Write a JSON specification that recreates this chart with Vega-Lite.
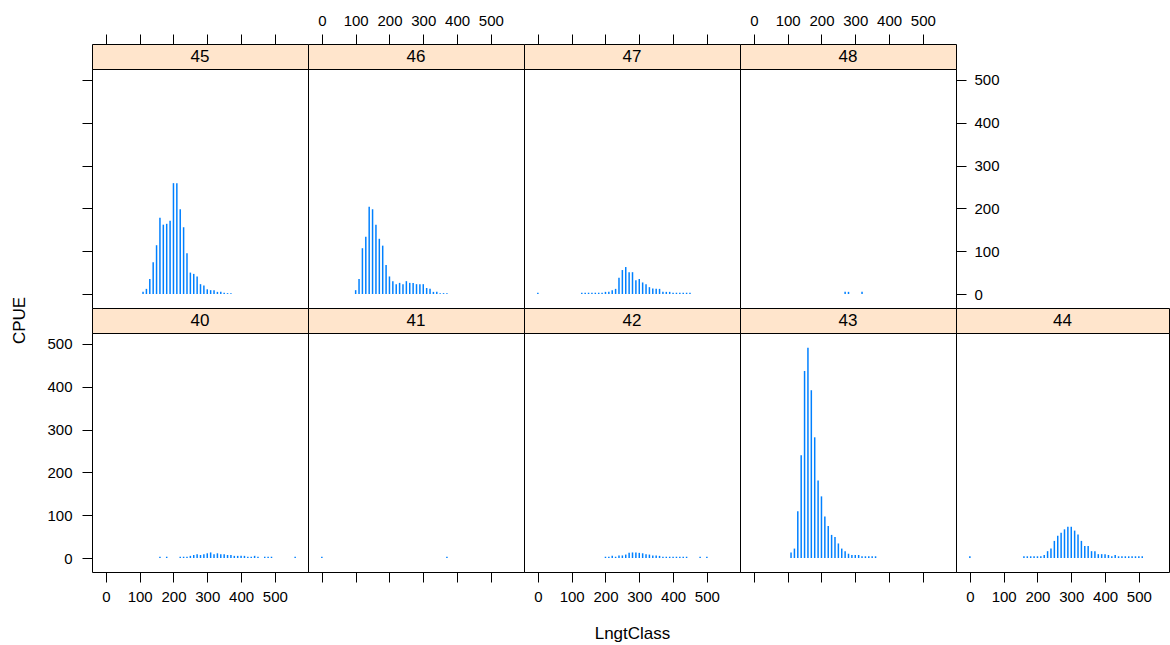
{
  "$schema": "https://vega.github.io/schema/vega-lite/v6.json",
  "background": "white",
  "padding": {"left": 9, "top": 12, "right": 0, "bottom": 0},
  "datasets": {
    "cpue": [
      {"panel":45,"LngtClass":110,"CPUE":5},{"panel":45,"LngtClass":120,"CPUE":12},{"panel":45,"LngtClass":130,"CPUE":35},{"panel":45,"LngtClass":140,"CPUE":74},{"panel":45,"LngtClass":150,"CPUE":114},{"panel":45,"LngtClass":160,"CPUE":178},{"panel":45,"LngtClass":170,"CPUE":162},{"panel":45,"LngtClass":180,"CPUE":164},{"panel":45,"LngtClass":190,"CPUE":171},{"panel":45,"LngtClass":200,"CPUE":259},{"panel":45,"LngtClass":210,"CPUE":259},{"panel":45,"LngtClass":220,"CPUE":198},{"panel":45,"LngtClass":230,"CPUE":156},{"panel":45,"LngtClass":240,"CPUE":95},{"panel":45,"LngtClass":250,"CPUE":50},{"panel":45,"LngtClass":260,"CPUE":47},{"panel":45,"LngtClass":270,"CPUE":41},{"panel":45,"LngtClass":280,"CPUE":23},{"panel":45,"LngtClass":290,"CPUE":20},{"panel":45,"LngtClass":300,"CPUE":11},{"panel":45,"LngtClass":310,"CPUE":9},{"panel":45,"LngtClass":320,"CPUE":9},{"panel":45,"LngtClass":330,"CPUE":5},{"panel":45,"LngtClass":340,"CPUE":5},{"panel":45,"LngtClass":350,"CPUE":3},{"panel":45,"LngtClass":360,"CPUE":2},{"panel":45,"LngtClass":370,"CPUE":2},
      {"panel":46,"LngtClass":100,"CPUE":9},{"panel":46,"LngtClass":110,"CPUE":35},{"panel":46,"LngtClass":120,"CPUE":107},{"panel":46,"LngtClass":130,"CPUE":134},{"panel":46,"LngtClass":140,"CPUE":204},{"panel":46,"LngtClass":150,"CPUE":198},{"panel":46,"LngtClass":160,"CPUE":162},{"panel":46,"LngtClass":170,"CPUE":129},{"panel":46,"LngtClass":180,"CPUE":113},{"panel":46,"LngtClass":190,"CPUE":68},{"panel":46,"LngtClass":200,"CPUE":41},{"panel":46,"LngtClass":210,"CPUE":30},{"panel":46,"LngtClass":220,"CPUE":23},{"panel":46,"LngtClass":230,"CPUE":26},{"panel":46,"LngtClass":240,"CPUE":23},{"panel":46,"LngtClass":250,"CPUE":30},{"panel":46,"LngtClass":260,"CPUE":26},{"panel":46,"LngtClass":270,"CPUE":26},{"panel":46,"LngtClass":280,"CPUE":23},{"panel":46,"LngtClass":290,"CPUE":23},{"panel":46,"LngtClass":300,"CPUE":23},{"panel":46,"LngtClass":310,"CPUE":14},{"panel":46,"LngtClass":320,"CPUE":12},{"panel":46,"LngtClass":330,"CPUE":5},{"panel":46,"LngtClass":340,"CPUE":5},{"panel":46,"LngtClass":350,"CPUE":2},{"panel":46,"LngtClass":360,"CPUE":2},{"panel":46,"LngtClass":370,"CPUE":2},
      {"panel":47,"LngtClass":0,"CPUE":3},{"panel":47,"LngtClass":130,"CPUE":3},{"panel":47,"LngtClass":140,"CPUE":3},{"panel":47,"LngtClass":150,"CPUE":3},{"panel":47,"LngtClass":160,"CPUE":3},{"panel":47,"LngtClass":170,"CPUE":3},{"panel":47,"LngtClass":180,"CPUE":3},{"panel":47,"LngtClass":190,"CPUE":3},{"panel":47,"LngtClass":200,"CPUE":5},{"panel":47,"LngtClass":210,"CPUE":5},{"panel":47,"LngtClass":220,"CPUE":9},{"panel":47,"LngtClass":230,"CPUE":12},{"panel":47,"LngtClass":240,"CPUE":38},{"panel":47,"LngtClass":250,"CPUE":56},{"panel":47,"LngtClass":260,"CPUE":63},{"panel":47,"LngtClass":270,"CPUE":51},{"panel":47,"LngtClass":280,"CPUE":51},{"panel":47,"LngtClass":290,"CPUE":32},{"panel":47,"LngtClass":300,"CPUE":35},{"panel":47,"LngtClass":310,"CPUE":27},{"panel":47,"LngtClass":320,"CPUE":23},{"panel":47,"LngtClass":330,"CPUE":16},{"panel":47,"LngtClass":340,"CPUE":13},{"panel":47,"LngtClass":350,"CPUE":12},{"panel":47,"LngtClass":360,"CPUE":12},{"panel":47,"LngtClass":370,"CPUE":5},{"panel":47,"LngtClass":380,"CPUE":5},{"panel":47,"LngtClass":390,"CPUE":5},{"panel":47,"LngtClass":400,"CPUE":3},{"panel":47,"LngtClass":410,"CPUE":3},{"panel":47,"LngtClass":420,"CPUE":3},{"panel":47,"LngtClass":430,"CPUE":3},{"panel":47,"LngtClass":440,"CPUE":3},{"panel":47,"LngtClass":450,"CPUE":3},
      {"panel":48,"LngtClass":270,"CPUE":5},{"panel":48,"LngtClass":280,"CPUE":5},{"panel":48,"LngtClass":320,"CPUE":5},
      {"panel":40,"LngtClass":160,"CPUE":3},{"panel":40,"LngtClass":180,"CPUE":3},{"panel":40,"LngtClass":220,"CPUE":3},{"panel":40,"LngtClass":230,"CPUE":3},{"panel":40,"LngtClass":240,"CPUE":3},{"panel":40,"LngtClass":250,"CPUE":5},{"panel":40,"LngtClass":260,"CPUE":7},{"panel":40,"LngtClass":270,"CPUE":9},{"panel":40,"LngtClass":280,"CPUE":7},{"panel":40,"LngtClass":290,"CPUE":9},{"panel":40,"LngtClass":300,"CPUE":11},{"panel":40,"LngtClass":310,"CPUE":13},{"panel":40,"LngtClass":320,"CPUE":9},{"panel":40,"LngtClass":330,"CPUE":11},{"panel":40,"LngtClass":340,"CPUE":9},{"panel":40,"LngtClass":350,"CPUE":9},{"panel":40,"LngtClass":360,"CPUE":7},{"panel":40,"LngtClass":370,"CPUE":7},{"panel":40,"LngtClass":380,"CPUE":5},{"panel":40,"LngtClass":390,"CPUE":5},{"panel":40,"LngtClass":400,"CPUE":5},{"panel":40,"LngtClass":410,"CPUE":5},{"panel":40,"LngtClass":420,"CPUE":3},{"panel":40,"LngtClass":430,"CPUE":3},{"panel":40,"LngtClass":440,"CPUE":5},{"panel":40,"LngtClass":450,"CPUE":3},{"panel":40,"LngtClass":470,"CPUE":3},{"panel":40,"LngtClass":480,"CPUE":3},{"panel":40,"LngtClass":490,"CPUE":3},{"panel":40,"LngtClass":560,"CPUE":3},
      {"panel":41,"LngtClass":0,"CPUE":3},{"panel":41,"LngtClass":370,"CPUE":3},
      {"panel":42,"LngtClass":200,"CPUE":3},{"panel":42,"LngtClass":210,"CPUE":3},{"panel":42,"LngtClass":220,"CPUE":5},{"panel":42,"LngtClass":230,"CPUE":3},{"panel":42,"LngtClass":240,"CPUE":6},{"panel":42,"LngtClass":250,"CPUE":6},{"panel":42,"LngtClass":260,"CPUE":8},{"panel":42,"LngtClass":270,"CPUE":12},{"panel":42,"LngtClass":280,"CPUE":13},{"panel":42,"LngtClass":290,"CPUE":13},{"panel":42,"LngtClass":300,"CPUE":12},{"panel":42,"LngtClass":310,"CPUE":11},{"panel":42,"LngtClass":320,"CPUE":9},{"panel":42,"LngtClass":330,"CPUE":8},{"panel":42,"LngtClass":340,"CPUE":6},{"panel":42,"LngtClass":350,"CPUE":6},{"panel":42,"LngtClass":360,"CPUE":5},{"panel":42,"LngtClass":370,"CPUE":3},{"panel":42,"LngtClass":380,"CPUE":3},{"panel":42,"LngtClass":390,"CPUE":3},{"panel":42,"LngtClass":400,"CPUE":3},{"panel":42,"LngtClass":410,"CPUE":3},{"panel":42,"LngtClass":420,"CPUE":3},{"panel":42,"LngtClass":430,"CPUE":3},{"panel":42,"LngtClass":440,"CPUE":3},{"panel":42,"LngtClass":480,"CPUE":3},{"panel":42,"LngtClass":500,"CPUE":3},
      {"panel":43,"LngtClass":110,"CPUE":13},{"panel":43,"LngtClass":120,"CPUE":22},{"panel":43,"LngtClass":130,"CPUE":109},{"panel":43,"LngtClass":140,"CPUE":240},{"panel":43,"LngtClass":150,"CPUE":437},{"panel":43,"LngtClass":160,"CPUE":491},{"panel":43,"LngtClass":170,"CPUE":392},{"panel":43,"LngtClass":180,"CPUE":282},{"panel":43,"LngtClass":190,"CPUE":181},{"panel":43,"LngtClass":200,"CPUE":144},{"panel":43,"LngtClass":210,"CPUE":97},{"panel":43,"LngtClass":220,"CPUE":75},{"panel":43,"LngtClass":230,"CPUE":54},{"panel":43,"LngtClass":240,"CPUE":49},{"panel":43,"LngtClass":250,"CPUE":34},{"panel":43,"LngtClass":260,"CPUE":22},{"panel":43,"LngtClass":270,"CPUE":16},{"panel":43,"LngtClass":280,"CPUE":10},{"panel":43,"LngtClass":290,"CPUE":7},{"panel":43,"LngtClass":300,"CPUE":7},{"panel":43,"LngtClass":310,"CPUE":7},{"panel":43,"LngtClass":320,"CPUE":4},{"panel":43,"LngtClass":330,"CPUE":4},{"panel":43,"LngtClass":340,"CPUE":4},{"panel":43,"LngtClass":350,"CPUE":4},{"panel":43,"LngtClass":360,"CPUE":4},
      {"panel":44,"LngtClass":0,"CPUE":4},{"panel":44,"LngtClass":160,"CPUE":4},{"panel":44,"LngtClass":170,"CPUE":4},{"panel":44,"LngtClass":180,"CPUE":4},{"panel":44,"LngtClass":190,"CPUE":4},{"panel":44,"LngtClass":200,"CPUE":4},{"panel":44,"LngtClass":210,"CPUE":4},{"panel":44,"LngtClass":220,"CPUE":7},{"panel":44,"LngtClass":230,"CPUE":16},{"panel":44,"LngtClass":240,"CPUE":22},{"panel":44,"LngtClass":250,"CPUE":40},{"panel":44,"LngtClass":260,"CPUE":52},{"panel":44,"LngtClass":270,"CPUE":59},{"panel":44,"LngtClass":280,"CPUE":67},{"panel":44,"LngtClass":290,"CPUE":73},{"panel":44,"LngtClass":300,"CPUE":73},{"panel":44,"LngtClass":310,"CPUE":64},{"panel":44,"LngtClass":320,"CPUE":55},{"panel":44,"LngtClass":330,"CPUE":40},{"panel":44,"LngtClass":340,"CPUE":28},{"panel":44,"LngtClass":350,"CPUE":28},{"panel":44,"LngtClass":360,"CPUE":16},{"panel":44,"LngtClass":370,"CPUE":16},{"panel":44,"LngtClass":380,"CPUE":9},{"panel":44,"LngtClass":390,"CPUE":9},{"panel":44,"LngtClass":400,"CPUE":9},{"panel":44,"LngtClass":410,"CPUE":7},{"panel":44,"LngtClass":420,"CPUE":4},{"panel":44,"LngtClass":430,"CPUE":7},{"panel":44,"LngtClass":440,"CPUE":4},{"panel":44,"LngtClass":450,"CPUE":4},{"panel":44,"LngtClass":460,"CPUE":4},{"panel":44,"LngtClass":470,"CPUE":4},{"panel":44,"LngtClass":480,"CPUE":4},{"panel":44,"LngtClass":490,"CPUE":4},{"panel":44,"LngtClass":500,"CPUE":4},{"panel":44,"LngtClass":510,"CPUE":4}
    ]
  },
  "columns": 5,
  "spacing": 0,
  "bounds": "flush",
  "align": "each",
  "concat": [
    {
      "width": 216, "height": 25,
      "view": {"fill": "#FFE5CC", "stroke": "black"},
      "layer": [
        {"data": {"name": "cpue"}, "transform": [{"filter": "datum.panel == 45"}],
         "mark": {"type": "tick", "opacity": 0},
         "encoding": {"x": {"field": "LngtClass", "type": "quantitative", "scale": {"domain": [-41, 598], "nice": false, "zero": false},
           "axis": {"orient": "top", "values": [0,100,200,300,400,500], "labels": false, "title": null}}}},
        {"data": {"values": [{"panel": "45"}]}, "mark": {"type": "text", "font": "Liberation Sans", "fontSize": 17, "color": "black"}, "encoding": {"text": {"field": "panel"}}}
      ]
    },
    {
      "width": 216, "height": 25,
      "view": {"fill": "#FFE5CC", "stroke": "black"},
      "layer": [
        {"data": {"name": "cpue"}, "transform": [{"filter": "datum.panel == 46"}],
         "mark": {"type": "tick", "opacity": 0},
         "encoding": {"x": {"field": "LngtClass", "type": "quantitative", "scale": {"domain": [-41, 598], "nice": false, "zero": false},
           "axis": {"orient": "top", "values": [0,100,200,300,400,500], "labels": true, "labelPadding": 6, "title": null}}}},
        {"data": {"values": [{"panel": "46"}]}, "mark": {"type": "text", "font": "Liberation Sans", "fontSize": 17, "color": "black"}, "encoding": {"text": {"field": "panel"}}}
      ]
    },
    {
      "width": 216, "height": 25,
      "view": {"fill": "#FFE5CC", "stroke": "black"},
      "layer": [
        {"data": {"name": "cpue"}, "transform": [{"filter": "datum.panel == 47"}],
         "mark": {"type": "tick", "opacity": 0},
         "encoding": {"x": {"field": "LngtClass", "type": "quantitative", "scale": {"domain": [-41, 598], "nice": false, "zero": false},
           "axis": {"orient": "top", "values": [0,100,200,300,400,500], "labels": false, "title": null}}}},
        {"data": {"values": [{"panel": "47"}]}, "mark": {"type": "text", "font": "Liberation Sans", "fontSize": 17, "color": "black"}, "encoding": {"text": {"field": "panel"}}}
      ]
    },
    {
      "width": 216, "height": 25,
      "view": {"fill": "#FFE5CC", "stroke": "black"},
      "layer": [
        {"data": {"name": "cpue"}, "transform": [{"filter": "datum.panel == 48"}],
         "mark": {"type": "tick", "opacity": 0},
         "encoding": {"x": {"field": "LngtClass", "type": "quantitative", "scale": {"domain": [-41, 598], "nice": false, "zero": false},
           "axis": {"orient": "top", "values": [0,100,200,300,400,500], "labels": true, "labelPadding": 6, "title": null}}}},
        {"data": {"values": [{"panel": "48"}]}, "mark": {"type": "text", "font": "Liberation Sans", "fontSize": 17, "color": "black"}, "encoding": {"text": {"field": "panel"}}}
      ]
    },
    {
      "width": 213, "height": 25,
      "view": {"stroke": null, "fill": null},
      "data": {"values": [{"blank": 1}]},
      "mark": {"type": "point", "opacity": 0},
      "encoding": {}
    },
    {
      "width": 216, "height": 239,
      "data": {"name": "cpue"}, "transform": [{"filter": "datum.panel == 45"}],
      "mark": {"type": "rule", "color": "#0080ff", "strokeWidth": 1.5},
      "encoding": {
        "x": {"field": "LngtClass", "type": "quantitative", "scale": {"domain": [-41, 598], "nice": false, "zero": false}, "axis": null},
        "y": {"field": "CPUE", "type": "quantitative", "scale": {"domain": [-32.7, 525.7], "nice": false, "zero": false},
          "axis": {"orient": "left", "values": [0,100,200,300,400,500], "labels": false, "title": null}},
        "y2": {"datum": 0}
      }
    },
    {
      "width": 216, "height": 239,
      "data": {"name": "cpue"}, "transform": [{"filter": "datum.panel == 46"}],
      "mark": {"type": "rule", "color": "#0080ff", "strokeWidth": 1.5},
      "encoding": {
        "x": {"field": "LngtClass", "type": "quantitative", "scale": {"domain": [-41, 598], "nice": false, "zero": false}, "axis": null},
        "y": {"field": "CPUE", "type": "quantitative", "scale": {"domain": [-32.7, 525.7], "nice": false, "zero": false}, "axis": null},
        "y2": {"datum": 0}
      }
    },
    {
      "width": 216, "height": 239,
      "data": {"name": "cpue"}, "transform": [{"filter": "datum.panel == 47"}],
      "mark": {"type": "rule", "color": "#0080ff", "strokeWidth": 1.5},
      "encoding": {
        "x": {"field": "LngtClass", "type": "quantitative", "scale": {"domain": [-41, 598], "nice": false, "zero": false}, "axis": null},
        "y": {"field": "CPUE", "type": "quantitative", "scale": {"domain": [-32.7, 525.7], "nice": false, "zero": false}, "axis": null},
        "y2": {"datum": 0}
      }
    },
    {
      "width": 216, "height": 239,
      "data": {"name": "cpue"}, "transform": [{"filter": "datum.panel == 48"}],
      "mark": {"type": "rule", "color": "#0080ff", "strokeWidth": 1.5},
      "encoding": {
        "x": {"field": "LngtClass", "type": "quantitative", "scale": {"domain": [-41, 598], "nice": false, "zero": false}, "axis": null},
        "y": {"field": "CPUE", "type": "quantitative", "scale": {"domain": [-32.7, 525.7], "nice": false, "zero": false},
          "axis": {"orient": "right", "values": [0,100,200,300,400,500], "labels": true, "labelPadding": 8, "title": null}},
        "y2": {"datum": 0}
      }
    },
    {
      "width": 213, "height": 239,
      "view": {"stroke": null, "fill": null},
      "data": {"values": [{"blank": 1}]},
      "mark": {"type": "point", "opacity": 0},
      "encoding": {}
    },
    {
      "width": 216, "height": 25,
      "view": {"fill": "#FFE5CC", "stroke": "black"},
      "data": {"values": [{"panel": "40"}]},
      "mark": {"type": "text", "font": "Liberation Sans", "fontSize": 17, "color": "black"},
      "encoding": {"text": {"field": "panel"}}
    },
    {
      "width": 216, "height": 25,
      "view": {"fill": "#FFE5CC", "stroke": "black"},
      "data": {"values": [{"panel": "41"}]},
      "mark": {"type": "text", "font": "Liberation Sans", "fontSize": 17, "color": "black"},
      "encoding": {"text": {"field": "panel"}}
    },
    {
      "width": 216, "height": 25,
      "view": {"fill": "#FFE5CC", "stroke": "black"},
      "data": {"values": [{"panel": "42"}]},
      "mark": {"type": "text", "font": "Liberation Sans", "fontSize": 17, "color": "black"},
      "encoding": {"text": {"field": "panel"}}
    },
    {
      "width": 216, "height": 25,
      "view": {"fill": "#FFE5CC", "stroke": "black"},
      "data": {"values": [{"panel": "43"}]},
      "mark": {"type": "text", "font": "Liberation Sans", "fontSize": 17, "color": "black"},
      "encoding": {"text": {"field": "panel"}}
    },
    {
      "width": 213, "height": 25,
      "view": {"fill": "#FFE5CC", "stroke": "black"},
      "data": {"values": [{"panel": "44"}]},
      "mark": {"type": "text", "font": "Liberation Sans", "fontSize": 17, "color": "black"},
      "encoding": {"text": {"field": "panel"}}
    },
    {
      "width": 216, "height": 239,
      "data": {"name": "cpue"}, "transform": [{"filter": "datum.panel == 40"}],
      "mark": {"type": "rule", "color": "#0080ff", "strokeWidth": 1.5},
      "encoding": {
        "x": {"field": "LngtClass", "type": "quantitative", "scale": {"domain": [-41, 598], "nice": false, "zero": false},
          "axis": {"orient": "bottom", "values": [0,100,200,300,400,500], "labels": true, "labelPadding": 7, "title": null}},
        "y": {"field": "CPUE", "type": "quantitative", "scale": {"domain": [-32.7, 525.7], "nice": false, "zero": false},
          "axis": {"orient": "left", "values": [0,100,200,300,400,500], "labels": true, "labelPadding": 10, "title": "CPUE", "titleX": -73, "titleY": -13, "titleAngle": 270, "titleAlign": "center", "titleBaseline": "middle"}},
        "y2": {"datum": 0}
      }
    },
    {
      "width": 216, "height": 239,
      "data": {"name": "cpue"}, "transform": [{"filter": "datum.panel == 41"}],
      "mark": {"type": "rule", "color": "#0080ff", "strokeWidth": 1.5},
      "encoding": {
        "x": {"field": "LngtClass", "type": "quantitative", "scale": {"domain": [-41, 598], "nice": false, "zero": false},
          "axis": {"orient": "bottom", "values": [0,100,200,300,400,500], "labels": false, "title": null}},
        "y": {"field": "CPUE", "type": "quantitative", "scale": {"domain": [-32.7, 525.7], "nice": false, "zero": false}, "axis": null},
        "y2": {"datum": 0}
      }
    },
    {
      "width": 216, "height": 239,
      "data": {"name": "cpue"}, "transform": [{"filter": "datum.panel == 42"}],
      "mark": {"type": "rule", "color": "#0080ff", "strokeWidth": 1.5},
      "encoding": {
        "x": {"field": "LngtClass", "type": "quantitative", "scale": {"domain": [-41, 598], "nice": false, "zero": false},
          "axis": {"orient": "bottom", "values": [0,100,200,300,400,500], "labels": true, "labelPadding": 7, "title": "LngtClass", "titleY": 61, "titleBaseline": "middle"}},
        "y": {"field": "CPUE", "type": "quantitative", "scale": {"domain": [-32.7, 525.7], "nice": false, "zero": false}, "axis": null},
        "y2": {"datum": 0}
      }
    },
    {
      "width": 216, "height": 239,
      "data": {"name": "cpue"}, "transform": [{"filter": "datum.panel == 43"}],
      "mark": {"type": "rule", "color": "#0080ff", "strokeWidth": 1.5},
      "encoding": {
        "x": {"field": "LngtClass", "type": "quantitative", "scale": {"domain": [-41, 598], "nice": false, "zero": false},
          "axis": {"orient": "bottom", "values": [0,100,200,300,400,500], "labels": false, "title": null}},
        "y": {"field": "CPUE", "type": "quantitative", "scale": {"domain": [-32.7, 525.7], "nice": false, "zero": false}, "axis": null},
        "y2": {"datum": 0}
      }
    },
    {
      "width": 213, "height": 239,
      "data": {"name": "cpue"}, "transform": [{"filter": "datum.panel == 44"}],
      "mark": {"type": "rule", "color": "#0080ff", "strokeWidth": 1.5},
      "encoding": {
        "x": {"field": "LngtClass", "type": "quantitative", "scale": {"domain": [-41, 589.2], "nice": false, "zero": false},
          "axis": {"orient": "bottom", "values": [0,100,200,300,400,500], "labels": true, "labelPadding": 7, "title": null}},
        "y": {"field": "CPUE", "type": "quantitative", "scale": {"domain": [-32.7, 525.7], "nice": false, "zero": false}, "axis": null},
        "y2": {"datum": 0}
      }
    }
  ],
  "config": {
    "view": {"stroke": "black", "strokeWidth": 1},
    "axis": {
      "domain": false, "grid": false, "ticks": true, "tickColor": "black", "tickSize": 10, "tickWidth": 1,
      "labelFont": "Liberation Sans", "labelFontSize": 15, "labelColor": "black", "labelOverlap": false, "labelFlush": false,
      "titleFont": "Liberation Sans", "titleFontSize": 17, "titleFontWeight": "normal", "titleColor": "black"
    }
  }
}
